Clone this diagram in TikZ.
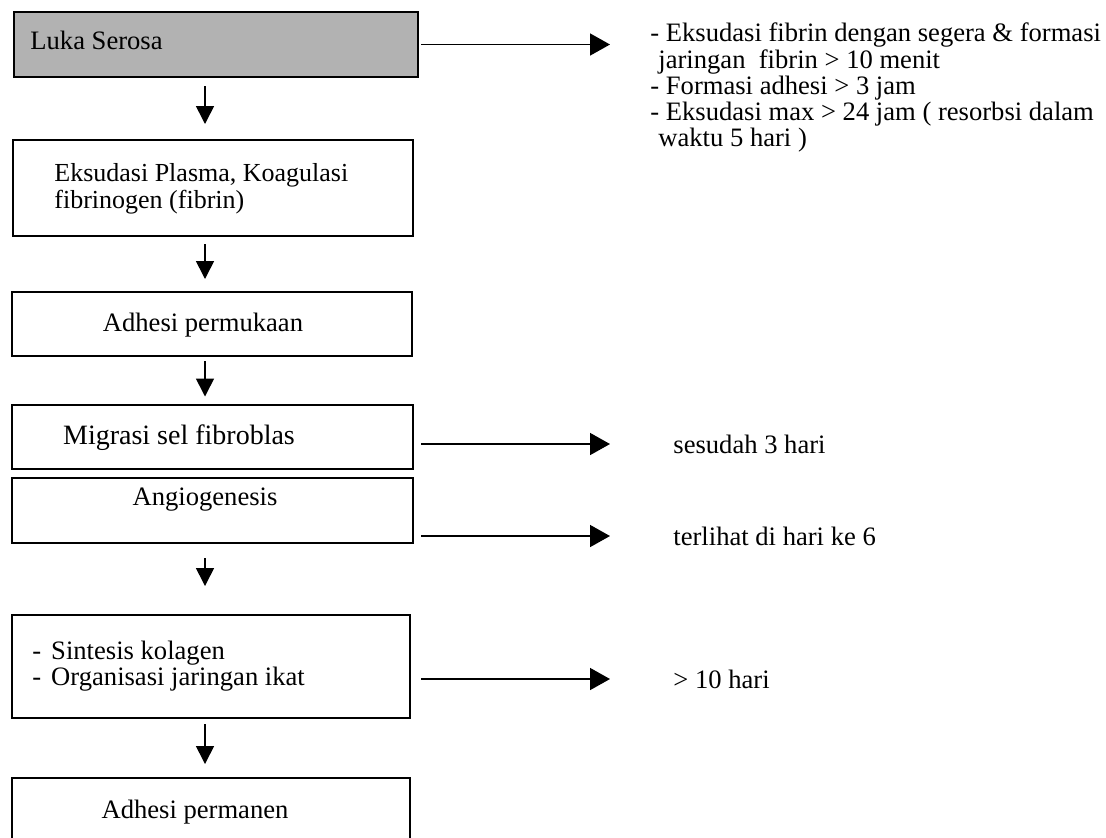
\documentclass[tikz,border=0pt]{standalone}
\usepackage{fontspec}
\setmainfont{Liberation Serif}
\usetikzlibrary{arrows.meta,positioning}

\tikzset{
  box/.style={draw, line width=1pt, minimum width=200pt, inner sep=0pt},
  txt/.style={inner sep=0pt, anchor=west, align=left, font=\fontsize{13.3pt}{11.5pt}\selectfont},
  down/.style={-{Triangle[length=9pt,width=9pt]}, line width=0.8pt},
  side/.style={-{Triangle[length=10pt,width=11pt]}, line width=0.8pt}
}

\begin{document}
\begin{tikzpicture}[x=0.5pt,y=-0.5pt]
    \useasboundingbox (0,0) rectangle (1106,837);
    \clip (0,0) rectangle (1106,837);

    % boxes
    \node[box, fill=black!30, minimum width=202pt, minimum height=32.5pt] (serosa) at (216,44.5) {};
    \node[box, minimum height=48pt] (plasma) at (213,188) {};
    \node[box, minimum height=32pt] (permukaan) at (212,324) {};
    \node[box, minimum width=200.5pt, minimum height=32pt] (migrasi) at (212.5,436.5) {};
    \node[box, minimum width=200.5pt, minimum height=32.5pt] (angio) at (212.5,510.5) {};
    \node[box, minimum width=199pt, minimum height=51.5pt] (kolagen) at (211,666.5) {};
    \node[box, minimum width=199pt, minimum height=34pt] (permanen) at (211,812) {};

    % texts in boxes
    \node[txt] (serosaT) at (30,40) {Luka Serosa};
    \node[txt, font=\fontsize{13pt}{13.5pt}\selectfont] (plasmaT) at (54,189) {Eksudasi Plasma, Koagulasi\\fibrinogen (fibrin)};
    \node[txt, anchor=center] (permukaanT) at (203,325) {Adhesi permukaan};
    \node[txt, anchor=center, font=\fontsize{14pt}{14pt}\selectfont] (migrasiT) at (179,438) {Migrasi sel fibroblas};
    \node[txt, anchor=center] (angioT) at (205,500) {Angiogenesis};
    \node[txt] (kolagenT) at (32,666.5) {-\hspace{5pt}Sintesis kolagen\\-\hspace{5pt}Organisasi jaringan ikat};
    \node[txt, anchor=center] (permanenT) at (195,812) {Adhesi permanen};

    % notes on the right
    \node[txt, font=\fontsize{13.3pt}{11.25pt}\selectfont] (noteA) at (650,87.5) {- Eksudasi fibrin dengan segera \& formasi\\\hspace*{4pt}jaringan~ fibrin > 10 menit\\- Formasi adhesi > 3 jam\\- Eksudasi max > 24 jam ( resorbsi dalam\\\hspace*{4pt}waktu 5 hari )};
    \node[txt] (sesudah) at (673,444) {sesudah 3 hari};
    \node[txt] (terlihat) at (673,536) {terlihat di hari ke 6};
    \node[txt] (sepuluh) at (673,679) {> 10 hari};

    % flow downwards
    \draw[down, shorten <=4pt, shorten >=7.5pt] ([xshift=-5.5pt]serosa.south) -- ([xshift=-5.5pt]serosa.south |- plasma.north);
    \draw[down, shorten <=3.5pt, shorten >=6pt] ([xshift=-4pt]plasma.south) -- ([xshift=-4pt]plasma.south |- permukaan.north);
    \draw[down, shorten <=2pt, shorten >=3.5pt] ([xshift=-3.5pt]permukaan.south) -- ([xshift=-3.5pt]permukaan.south |- migrasi.north);
    \draw[down, shorten <=7pt, shorten >=14pt] ([xshift=-3.75pt]angio.south) -- ([xshift=-3.75pt]angio.south |- kolagen.north);
    \draw[down, shorten <=2.5pt, shorten >=6.5pt] ([xshift=-3pt]kolagen.south) -- ([xshift=-3pt]kolagen.south |- permanen.north);

    % arrows to the notes
    \draw[side, shorten <=1pt, shorten >=20pt] (serosa.east) -- (serosa.east -| noteA.west);
    \draw[side, shorten <=3.5pt, shorten >=31.5pt] (migrasi.east |- sesudah) -- (sesudah.west);
    \draw[side, shorten <=3.5pt, shorten >=31.5pt] (angio.east |- terlihat) -- (terlihat.west);
    \draw[side, shorten <=5pt, shorten >=31.5pt] (kolagen.east |- sepuluh) -- (sepuluh.west);

\end{tikzpicture}
\end{document}
